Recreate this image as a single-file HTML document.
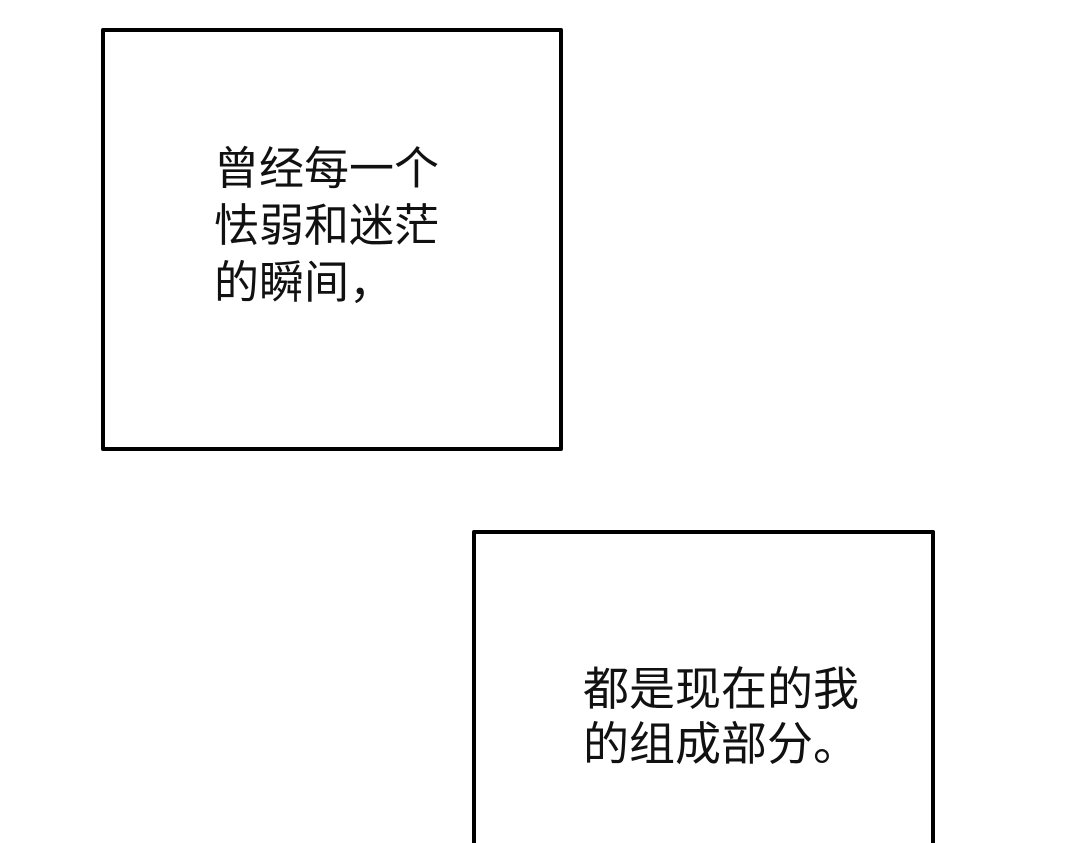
<!DOCTYPE html>
<html><head><meta charset="utf-8"><style>
html,body{margin:0;padding:0;background:#fff;width:1080px;height:843px;overflow:hidden;position:relative}
.b{position:absolute;border:4px solid #000;box-sizing:border-box;border-radius:2px}
.t{position:absolute;font-family:"Liberation Sans","Noto Sans CJK SC",sans-serif;color:#111;white-space:nowrap}
</style></head><body>
<div class="b" style="left:101px;top:28px;width:462px;height:423px"></div>
<div class="t" style="left:214px;top:140px;font-size:45px;line-height:57px">曾经每一个<br>怯弱和迷茫<br>的瞬间，</div>
<div class="b" style="left:472px;top:530px;width:463px;height:330px"></div>
<div class="t" style="left:583px;top:662px;font-size:46px;line-height:55px">都是现在的我<br>的组成部分。</div>
</body></html>
